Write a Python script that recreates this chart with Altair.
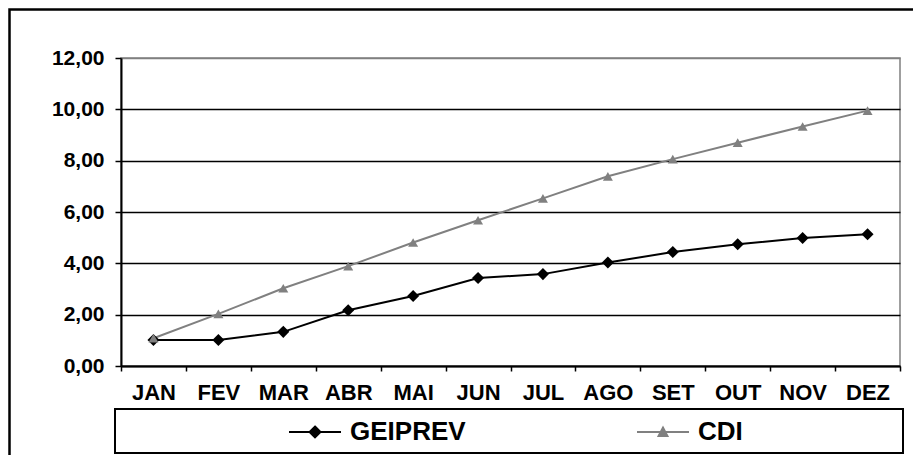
import altair as alt
import pandas as pd

# ---- data ----
months = ["JAN", "FEV", "MAR", "ABR", "MAI", "JUN", "JUL", "AGO", "SET", "OUT", "NOV", "DEZ"]
geiprev = [1.01, 1.01, 1.33, 2.17, 2.73, 3.43, 3.58, 4.03, 4.44, 4.74, 4.99, 5.13]
cdi = [1.08, 2.03, 3.03, 3.89, 4.81, 5.68, 6.53, 7.39, 8.06, 8.70, 9.33, 9.95]
series_names = ["GEIPREV", "CDI"]
series_colors = ["#000000", "#808080"]
series_shapes = ["diamond", "triangle-up"]
series_sizes = [145, 100]
y_ticks = [0, 2, 4, 6, 8, 10, 12]

rows = []
for name, vals in zip(series_names, [geiprev, cdi]):
    for m, v in zip(months, vals):
        rows.append({"mes": m, "valor": v, "serie": name})
df = pd.DataFrame(rows)

FONT = "Liberation Sans"

# legend symbols: short line with marker in the middle
legend_paths = [
    "M-1,0L1,0M0,-0.21L0.21,0L0,0.21L-0.21,0Z",
    "M-1,0L1,0M-0.17,0.15L0,-0.17L0.17,0.15Z",
]
test_first = f"datum.value === '{series_names[0]}'"


def pick(a, b):
    return {"expr": f"{test_first} ? '{a}' : '{b}'"}


legend = alt.Legend(
    title=None,
    orient="none",
    legendX=167,
    legendY=347,
    direction="horizontal",
    padding=0,
    symbolSize=2704,
    symbolType=pick(*legend_paths),
    symbolFillColor=pick(*series_colors),
    symbolStrokeColor=pick(*series_colors),
    symbolStrokeWidth=2,
    symbolOpacity=1,
    labelOffset=8,
    columnPadding=167,
    labelFont=FONT,
    labelFontSize=26,
    labelFontWeight="bold",
    labelColor="black",
    labelLimit=600,
)

x_enc = alt.X(
    "mes:O",
    sort=months,
    bandPosition=0.5,
    scale=alt.Scale(type="band", paddingInner=0, paddingOuter=0),
    axis=alt.Axis(
        title=None,
        labelAngle=0,
        tickBand="extent",
        labelFont=FONT,
        labelFontSize=22,
        labelFontWeight="bold",
        labelColor="black",
        labelPadding=11,
        tickSize=5,
        tickColor="black",
        tickWidth=1.5,
        domainColor="black",
        domainWidth=2,
        grid=False,
    ),
)

y_enc = alt.Y(
    "valor:Q",
    scale=alt.Scale(domain=[0, 12], nice=False),
    axis=alt.Axis(
        title=None,
        values=y_ticks,
        labelExpr="replace(format(datum.value, '.2f'), '.', ',')",
        labelFont=FONT,
        labelFontSize=21,
        labelFontWeight="bold",
        labelColor="black",
        labelPadding=11,
        tickSize=6,
        tickColor="black",
        tickWidth=1.5,
        domainColor="black",
        domainWidth=2,
        grid=True,
        gridColor={"condition": {"test": "datum.value === 12", "value": "#808080"}, "value": "black"},
        gridWidth=1.3,
    ),
)

color_scale = alt.Scale(domain=series_names, range=series_colors)

box_df = pd.DataFrame({"k": [0]})

outer_box = alt.Chart(box_df).mark_rect(
    fillOpacity=0, stroke="black", strokeWidth=2.5
).encode(
    x=alt.value(-111.5), x2=alt.value(900), y=alt.value(-48.5), y2=alt.value(500)
)

legend_box = alt.Chart(box_df).mark_rect(
    fillOpacity=0, stroke="black", strokeWidth=2
).encode(
    x=alt.value(-6), x2=alt.value(782), y=alt.value(351), y2=alt.value(395)
)

lines = alt.Chart(df).mark_line(strokeWidth=2).encode(
    x=x_enc,
    y=y_enc,
    color=alt.Color("serie:N", scale=color_scale, legend=legend),
    detail="serie:N",
)

point_layers = []
for name, shape, size in zip(series_names, series_shapes, series_sizes):
    point_layers.append(
        alt.Chart(df)
        .transform_filter(alt.datum.serie == name)
        .mark_point(filled=True, opacity=1, shape=shape, size=size)
        .encode(
            x=x_enc,
            y=y_enc,
            color=alt.Color("serie:N", scale=color_scale, legend=None),
        )
    )

chart = (
    alt.layer(outer_box, legend_box, lines, *point_layers)
    .properties(
        width=779,
        height=308,
        autosize=alt.AutoSizeParams(type="none"),
        padding={"left": 113, "top": 50, "right": 13, "bottom": 89},
        background="white",
    )
    .configure_view(stroke="#808080", strokeWidth=1.5)
)

chart.save("out.html", embed_options={"renderer": "svg", "actions": False})
